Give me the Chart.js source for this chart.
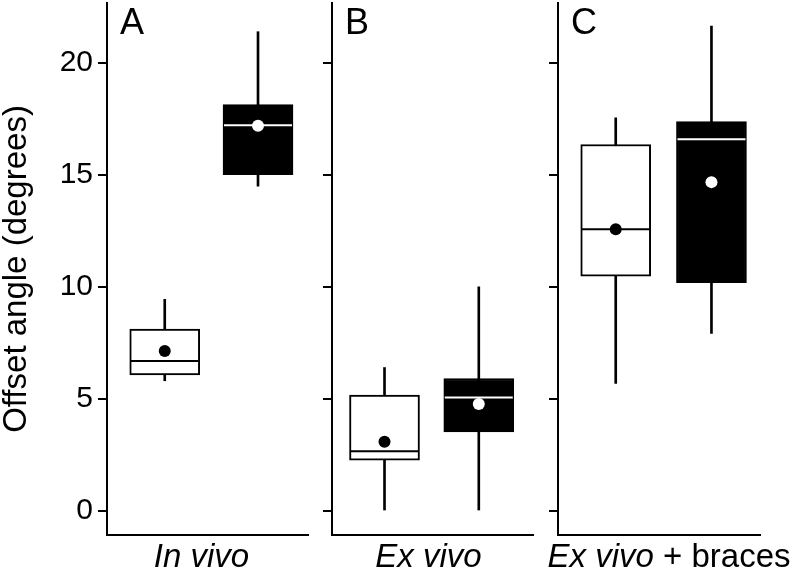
<!DOCTYPE html>
<html>
<head>
<meta charset="utf-8">
<script src="https://cdn.jsdelivr.net/npm/chart.js@4"></script>
<style>
  html, body { margin: 0; padding: 0; background: #fff; }
  #wrap { position: relative; width: 793px; height: 582px; }
  canvas { position: absolute; top: 0; }
</style>
</head>
<body>
<div id="wrap">
  <canvas id="panelA" width="310" height="582" style="left:0px"></canvas>
  <canvas id="panelB" width="225" height="582" style="left:310px"></canvas>
  <canvas id="panelC" width="258" height="582" style="left:535px"></canvas>
</div>
<script>
// Panels and x labels
const panelLetters = ["A", "B", "C"];
const panelLabels = [
  [{ text: "In vivo", italic: true }],
  [{ text: "Ex vivo", italic: true }],
  [{ text: "Ex vivo", italic: true }, { text: " + braces", italic: false }]
];

// White boxes (one value per panel)
const whiteMin = [5.81, 0.0, 5.69];
const whiteQ1 = [6.07, 2.27, 10.48];
const whiteMedian = [6.69, 2.67, 12.57];
const whiteQ3 = [8.12, 5.17, 16.35];
const whiteMax = [9.44, 6.40, 17.54];
const whiteMean = [7.14, 3.09, 12.57];

// Black boxes
const blackMin = [14.49, 0.0, 7.92];
const blackQ1 = [15.0, 3.53, 10.19];
const blackMedian = [17.21, 5.06, 16.58];
const blackQ3 = [18.13, 5.91, 17.37];
const blackMax = [21.38, 10.0, 21.63];
const blackMean = [17.18, 4.77, 14.67];

const yTicks = [0, 5, 10, 15, 20];
const yMin = -1.07;
const yMax = 22.66;

// box slots are 1 (white) and 2 (black); x range per panel
const xRanges = [[0.381, 2.536], [0.443, 2.575], [0.397, 2.507]];

Chart.defaults.font.family = '"Liberation Sans", Arial, Helvetica, sans-serif';
Chart.defaults.color = "#000";

// letter in the top-left corner + mixed italic/regular x label
const panelText = {
  id: "panelText",
  afterDraw(chart, args, opts) {
    const { ctx, chartArea } = chart;
    const i = opts.panel;
    const fam = Chart.defaults.font.family;
    ctx.save();
    ctx.fillStyle = "#000";
    ctx.textBaseline = "alphabetic";
    ctx.textAlign = "left";
    ctx.font = "36px " + fam;
    ctx.fillText(panelLetters[i], chartArea.left + 13, 34);

    const parts = panelLabels[i];
    const fonts = parts.map(p => (p.italic ? "italic " : "") + "33px " + fam);
    const widths = parts.map((p, k) => { ctx.font = fonts[k]; return ctx.measureText(p.text).width; });
    const total = widths.reduce((a, b) => a + b, 0);
    let x = (chartArea.left + chartArea.right) / 2 + opts.shift - total / 2;
    parts.forEach((p, k) => {
      ctx.font = fonts[k];
      ctx.fillText(p.text, x, 567);
      x += widths[k];
    });
    ctx.restore();
  }
};

function makeChart(id, i, axisWidth, rightPad, shift) {
  const showLabels = i === 0;
  return new Chart(document.getElementById(id), {
    type: "bar",
    data: {
      datasets: [
        {
          // means
          type: "line",
          data: [{ x: 1, y: whiteMean[i] }, { x: 2, y: blackMean[i] }],
          showLine: false,
          pointStyle: "circle",
          pointRadius: 6,
          pointBorderWidth: 0,
          pointBackgroundColor: ["#000", "#fff"],
          order: 0
        },
        {
          // medians
          type: "line",
          data: [{ x: 1, y: whiteMedian[i] }, { x: 2, y: blackMedian[i] }],
          showLine: false,
          pointStyle: "line",
          pointRadius: 34,
          pointBorderWidth: 2,
          pointBorderColor: ["#000", "#fff"],
          order: 1
        },
        {
          // boxes
          data: [{ x: 1, y: [whiteQ1[i], whiteQ3[i]] }, { x: 2, y: [blackQ1[i], blackQ3[i]] }],
          backgroundColor: ["#fff", "#000"],
          borderColor: "#000",
          borderWidth: 2,
          borderSkipped: false,
          barThickness: 70,
          grouped: false,
          order: 2
        },
        {
          // whiskers
          data: [{ x: 1, y: [whiteMin[i], whiteMax[i]] }, { x: 2, y: [blackMin[i], blackMax[i]] }],
          backgroundColor: "#000",
          barThickness: 2,
          grouped: false,
          order: 3
        }
      ]
    },
    options: {
      responsive: false,
      animation: false,
      events: [],
      layout: { autoPadding: false, padding: { top: 3, right: rightPad, left: 0, bottom: 0 } },
      plugins: {
        legend: { display: false },
        tooltip: { enabled: false },
        panelText: { panel: i, shift: shift }
      },
      scales: {
        x: {
          type: "linear",
          min: xRanges[i][0],
          max: xRanges[i][1],
          offset: false,
          ticks: { display: false },
          grid: { display: false },
          border: { display: true, color: "#000", width: 2 },
          afterFit(s) {
            s.height = 47;
            s.paddingLeft = s.paddingRight = s.paddingTop = s.paddingBottom = 0;
          }
        },
        y: {
          min: yMin,
          max: yMax,
          afterBuildTicks(s) { s.ticks = yTicks.map(v => ({ value: v })); },
          ticks: { display: showLabels, font: { size: 30 }, color: "#000", padding: 5 },
          grid: { drawOnChartArea: false, drawTicks: true, tickLength: 9, color: "#000", lineWidth: 2 },
          border: { display: true, color: "#000", width: 2 },
          title: {
            display: showLabels,
            text: "Offset angle (degrees)",
            font: { size: 33, lineHeight: 1 },
            color: "#000",
            padding: 0
          },
          afterFit(s) {
            s.width = axisWidth;
            s.paddingTop = s.paddingBottom = 0;
          }
        }
      }
    },
    plugins: [panelText]
  });
}

makeChart("panelA", 0, 107, 2, -6);
makeChart("panelB", 1, 22, 2, -4);
makeChart("panelC", 2, 23, 33, 10);
</script>
</body>
</html>
